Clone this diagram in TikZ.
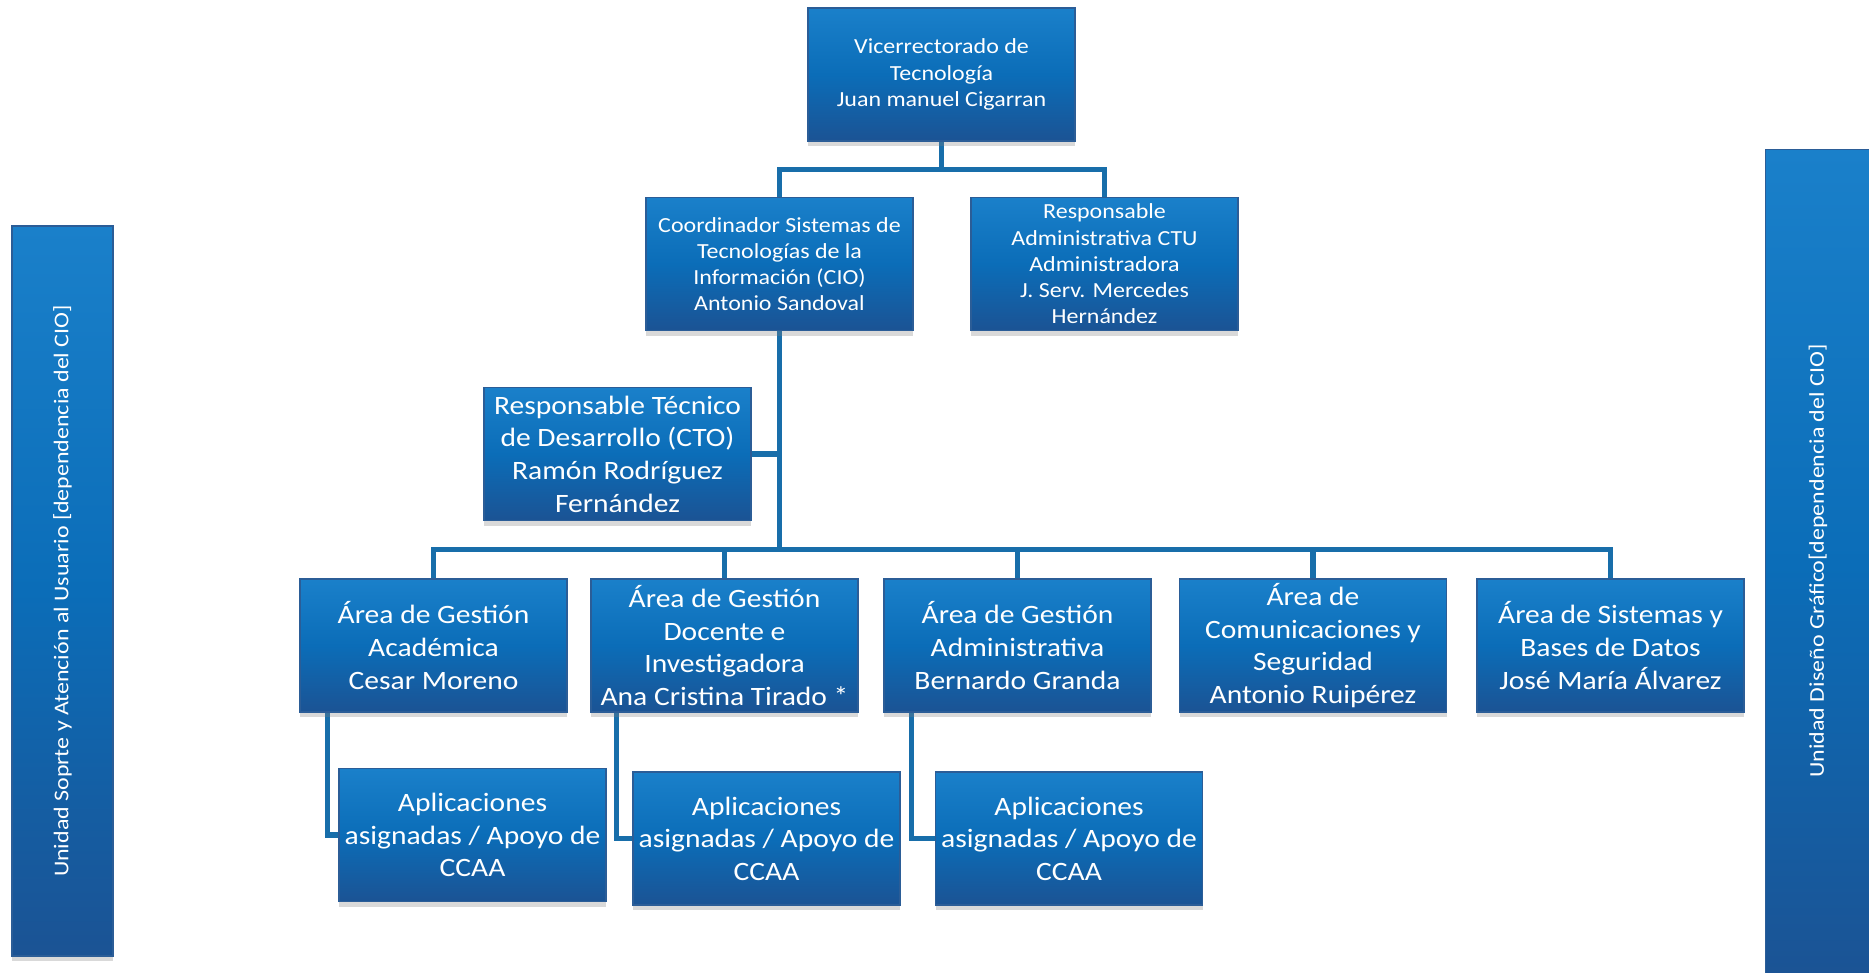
\documentclass[tikz,border=0pt]{standalone}
\usepackage{fontspec}
\setmainfont{Carlito}[FakeStretch=1.115]
\newfontfamily\sidefont{Carlito}[FakeStretch=1.14]
\usetikzlibrary{shadows,calc,backgrounds}
\definecolor{boxtop}{HTML}{1A80CA}
\definecolor{boxmid}{HTML}{0B6DB8}
\definecolor{boxbot}{HTML}{1B5394}
\definecolor{boxedge}{HTML}{2B5D97}
\definecolor{linkcol}{HTML}{186EAA}
\tikzset{
  orgbox/.style={rectangle, top color=boxtop, bottom color=boxbot, middle color=boxmid,
    draw=boxedge, line width=1.2pt, text=white, align=center, inner sep=0pt,
    drop shadow={shadow xshift=0pt, shadow yshift=-5pt, opacity=0.3}},
  smalltxt/.style={font=\fontsize{21.5}{26.2}\selectfont},
  bigtxt/.style={font=\fontsize{26.5}{32.6}\selectfont},
  sidetxt/.style={font=\sidefont\fontsize{21}{25}\selectfont, text=white, rotate=90},
  link/.style={draw=linkcol, line width=5.5pt},
  stdbox/.style={orgbox, minimum width=267pt, minimum height=133pt}
}
\begin{document}
\begin{tikzpicture}[x=1pt,y=-1pt]
\useasboundingbox (0,0) rectangle (1869,972);
% top levels
\node[stdbox, smalltxt] (top) at (941.5,74.5) {Vicerrectorado de\\Tecnología\\Juan manuel Cigarran};
\node[stdbox, smalltxt] (coord) at (779.5,264) {Coordinador Sistemas de\\Tecnologías de la\\Información (CIO)\\Antonio Sandoval};
\node[stdbox, smalltxt] (resp) at (1104.5,264) {Responsable\\Administrativa CTU\\Administradora\\J. Serv. Mercedes\\Hernández};
\node[stdbox, bigtxt] (cto) at (617.5,454) {Responsable Técnico\\de Desarrollo (CTO)\\Ramón Rodríguez\\Fernández};
% areas
\node[stdbox, bigtxt] (A1) at (433.5,645.5) {Área de Gestión\\Académica\\Cesar Moreno};
\node[stdbox, bigtxt] (A2) at (724.5,645.5) {Área de Gestión\\Docente e\\Investigadora\\Ana Cristina Tirado *};
\node[stdbox, bigtxt] (A3) at (1017.5,645.5) {Área de Gestión\\Administrativa\\Bernardo Granda};
\node[stdbox, bigtxt] (A4) at (1313,645.5) {Área de\\Comunicaciones y\\Seguridad\\Antonio Ruipérez};
\node[stdbox, bigtxt] (A5) at (1610.5,645.5) {Área de Sistemas y\\Bases de Datos\\José María Álvarez};
% sub boxes
\node[stdbox, bigtxt] (S1) at (472.5,835) {Aplicaciones\\asignadas / Apoyo de\\CCAA};
\node[stdbox, bigtxt] (S2) at (766.5,838.5) {Aplicaciones\\asignadas / Apoyo de\\CCAA};
\node[stdbox, bigtxt] (S3) at (1069,838.5) {Aplicaciones\\asignadas / Apoyo de\\CCAA};
% side units
\node[orgbox, minimum width=101pt, minimum height=730pt] (left) at (62.5,591) {};
\node[sidetxt] (lefttxt) at (left.center) {Unidad Soprte y Atención al Usuario [dependencia del CIO]};
\node[orgbox, minimum width=110pt, minimum height=830pt, anchor=north west] (right) at (1765,149) {};
\node[sidetxt] (righttxt) at (1818,561) {Unidad Diseño Gráfico[dependencia del CIO]};
% connectors
\begin{scope}[on background layer]
\draw[link] (top.south) -- ++(0,28);
\draw[link] (coord.north) |- ($(top.south)+(0,28)$) -| (resp.north);
\draw[link] (coord.south) -- ++(0,220);
\draw[link] (cto.east) -- (cto.east -| coord.south);
\draw[link] (A1.north) -- ++(0,-29) -| (A5.north);
\draw[link] (A2.north) -- ++(0,-29);
\draw[link] (A3.north) -- ++(0,-29);
\draw[link] (A4.north) -- ++(0,-29);
\draw[link] ($(A1.south west)+(28,0)$) |- (S1.west);
\draw[link] ($(A2.south west)+(26,0)$) |- (S2.west);
\draw[link] ($(A3.south west)+(28,0)$) |- (S3.west);
\end{scope}
\end{tikzpicture}
\end{document}
